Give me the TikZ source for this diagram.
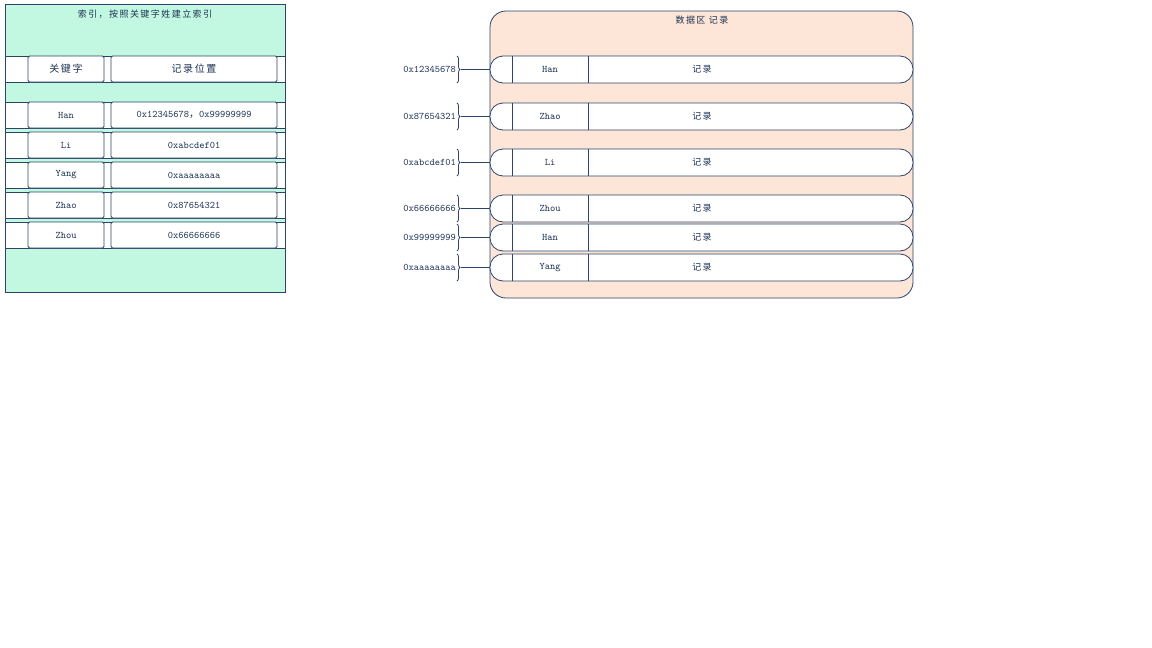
\documentclass[tikz,border=0pt]{standalone}
\usepackage{fontspec}
\newfontfamily\cjk[LetterSpace=16]{Noto Sans CJK SC}
\usetikzlibrary{positioning,decorations.pathreplacing}

\definecolor{linec}{HTML}{2B4468}
\definecolor{textc}{HTML}{1C3152}
\definecolor{mint}{HTML}{C2F8E1}
\definecolor{peach}{HTML}{FDE5D7}

\tikzset{
  frame/.style={draw=linec, line width=0.8pt},
  cellbox/.style={frame, fill=white, minimum height=26pt, inner sep=0pt, rounded corners=1.5pt},
  lbl/.style={text=textc, font=\ttfamily\fontsize{10}{11}\selectfont, inner sep=0pt},
  cjklbl/.style={text=textc, font=\cjk\fontsize{9}{10}\selectfont, inner sep=0pt},
  recbox/.style={frame, fill=white, minimum width=423pt, minimum height=27pt, rounded corners=13pt, inner sep=0pt},
  addrbrace/.style={draw=linec, line width=0.8pt, decorate, decoration={brace, amplitude=3pt}}
}

\begin{document}
\begin{tikzpicture}[x=1pt, y=-1pt]
\path[use as bounding box] (0,0) rectangle (1152,648);

% index table
\draw[frame, fill=mint] (5,4) rectangle (285,292);
\node[cjklbl] (idxtitle) at (145,14) {索引，按照关键字姓建立索引};
\foreach \top/\key/\val/\nm in {
    56/{\cjk 关键字}/{\cjk 记录位置}/head,
    102/Han/{0x12345678{\cjk ，}0x99999999}/han,
    132/Li/0xabcdef01/li,
    162/Yang/0xaaaaaaaa/yang,
    192/Zhao/0x87654321/zhao,
    222/Zhou/0x66666666/zhou}{
  \draw[frame, fill=white] (5,\top) rectangle (285,\top+26);
  \node[cellbox, minimum width=76pt, lbl] (key-\nm) at (66,\top+13) {\key};
  \node[cellbox, minimum width=166pt, lbl] (pos-\nm) at (194,\top+13) {\val};
}

% data area
\draw[frame, fill=peach, rounded corners=16pt] (490,11) rectangle (913,298);
\node[cjklbl] (datatitle) at (702,20) {数据区 记录};
\foreach \top/\key/\addr/\nm in {
    56/Han/0x12345678/r1,
    103/Zhao/0x87654321/r2,
    149/Li/0xabcdef01/r3,
    195/Zhou/0x66666666/r4,
    224/Han/0x99999999/r5,
    254/Yang/0xaaaaaaaa/r6}{
  \node[recbox] (rec-\nm) at (701.5,\top+13.5) {};
  \draw[frame] (512,\top) -- (512,\top+27) (588,\top) -- (588,\top+27);
  \node[lbl] (reckey-\nm) at (550,\top+13.5) {\key};
  \node[cjklbl] (rectxt-\nm) at (702,\top+13.5) {记录};
  \node[lbl, anchor=east] (addr-\nm) at (456,\top+13.5) {\addr};
  \draw[addrbrace] (457,\top) -- (457,\top+27);
  \coordinate (tip-\nm) at (461,\top+13.5);
  \draw[frame] (tip-\nm) -- (rec-\nm.west);
}
\end{tikzpicture}
\end{document}
